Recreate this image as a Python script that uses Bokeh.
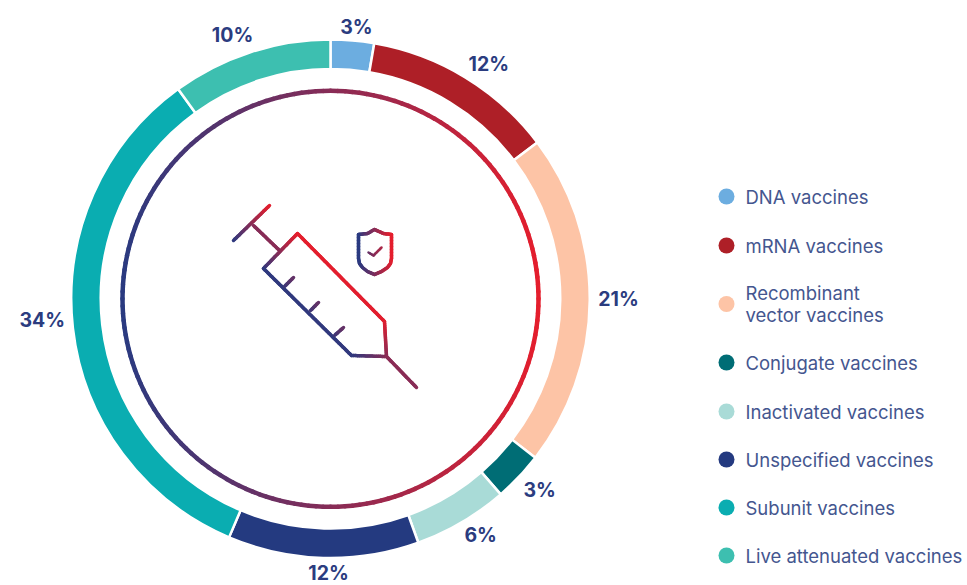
import math
from bokeh.plotting import figure
from bokeh.embed import file_html
from bokeh.resources import INLINE
from bokeh.core.properties import value

# ---- data ----
categories = ["DNA vaccines", "mRNA vaccines", "Recombinant\nvector vaccines", "Conjugate vaccines",
              "Inactivated vaccines", "Unspecified vaccines", "Subunit vaccines", "Live attenuated vaccines"]
shares = [2.7, 12.0, 20.8, 3.1, 5.9, 11.9, 33.6, 10.0]
labels = ["3%", "12%", "21%", "3%", "6%", "12%", "34%", "10%"]
colors = ["#6cade0", "#ae1f27", "#fdc4a6", "#006d75", "#a9dbd7", "#243a80", "#0aadb1", "#3dbfb0"]

# ---- layout (page pixels) ----
W, H = 967, 585
OFF = 0
CX, CY = 330, 298.3
R_OUT, R_IN, R_CIRCLE = 259.25, 229.75, 208
label_radii = [273, 283, 288, 283.5, 280, 274.5, 289, 281]
label_nudge_deg = [0.6, 2.7, -0.4, -0.9, -2.0, -1.2, 2.3, -2.4]
legend_y = [196, 245, 303.5, 362, 411, 459, 507, 555]
LEG_DOT_X, LEG_TEXT_X = 726, 745
NAVY = "#2b3c7f"
LEG_TEXT = "#44568f"
FONT = "Inter"

def px(x): return x - CX
def py(y): return CY - y

p = figure(width=W, height=H, output_backend="svg", toolbar_location=None,
           x_range=(OFF - CX, OFF + W - CX), y_range=(CY - OFF - H, CY - OFF),
           min_border=0, outline_line_color=None)
p.axis.visible = False
p.grid.visible = False
p.background_fill_color = "white"

# ---- ring ----
total = sum(shares)
starts, ends, acc = [], [], 0.0
for s in shares:
    starts.append(acc / total); acc += s; ends.append(acc / total)
to_ang = lambda f: math.pi / 2 - 2 * math.pi * f
p.annular_wedge(x=0, y=0, inner_radius=R_IN, outer_radius=R_OUT,
                start_angle=[to_ang(e) for e in ends], end_angle=[to_ang(s) for s in starts],
                fill_color=colors, line_color="white", line_width=2.5)

# ---- percentage labels ----
mids = [2 * math.pi * (a + b) / 2 + math.radians(n) for a, b, n in zip(starts, ends, label_nudge_deg)]
p.text(x=[r * math.sin(m) for r, m in zip(label_radii, mids)],
       y=[r * math.cos(m) for r, m in zip(label_radii, mids)],
       text=labels, text_font=value(FONT), text_font_style="bold", text_font_size="19.5px",
       text_color=NAVY, text_align="center", text_baseline="middle")

# ---- gradient helpers ----
BLUE, RED = (0x2a, 0x3a, 0x80), (0xe4, 0x1e, 0x2d)
def mix(t):
    t = max(0.0, min(1.0, t))
    return "#%02x%02x%02x" % tuple(round(a + (b - a) * t) for a, b in zip(BLUE, RED))

def grad_line(points, tfunc, width, step=2.0):
    xs, ys, cs = [], [], []
    for (x0, y0), (x1, y1) in zip(points, points[1:]):
        n = max(1, int(math.hypot(x1 - x0, y1 - y0) / step))
        for i in range(n):
            a, b = i / n, (i + 1) / n
            xa, ya = x0 + (x1 - x0) * a, y0 + (y1 - y0) * a
            xb, yb = x0 + (x1 - x0) * b, y0 + (y1 - y0) * b
            xs.append([px(xa), px(xb)]); ys.append([py(ya), py(yb)])
            cs.append(mix(tfunc((xa + xb) / 2, (ya + yb) / 2)))
    p.multi_line(xs, ys, line_color=cs, line_width=width, line_cap="round", line_join="round")

# ---- inner circle ----
circle_pts = [(CX + R_CIRCLE * math.cos(i * math.pi / 180), CY + R_CIRCLE * math.sin(i * math.pi / 180))
              for i in range(0, 361, 2)]
grad_line(circle_pts, lambda x, y: (x - (CX - R_CIRCLE)) / (2 * R_CIRCLE), 4.5, step=8)

# ---- syringe icon ----
syr_t = lambda x, y: (x - y + 7) / 71
W_ICON = 3.5
for pts in [
    [(233, 240), (269, 205)],
    [(253, 225), (279, 250)],
    [(263, 268), (297, 233), (384, 321), (386, 356), (351, 355), (263, 268)],
    [(386, 356), (416, 387)],
    [(284, 286), (293, 277)],
    [(310, 310), (318, 302)],
    [(334, 335), (343, 327)],
]:
    grad_line(pts, syr_t, W_ICON)

# ---- shield icon ----
sh_t = lambda x, y: (x - 358) / 33
grad_line([(358, 234), (367, 233), (374, 229), (383, 233), (391, 234), (391, 258), (390, 263), (387, 267),
           (381, 271), (374, 274), (367, 271), (362, 267), (359, 263), (358, 258), (358, 234)], sh_t, 3.5, step=1.5)
grad_line([(368, 252), (373, 255), (381, 247)], sh_t, 2.5, step=1.5)

# ---- legend ----
p.scatter(x=[px(LEG_DOT_X)] * len(legend_y), y=[py(y) for y in legend_y], size=16,
          marker="circle", fill_color=colors, line_color=None)
p.text(x=[px(LEG_TEXT_X)] * len(legend_y), y=[py(y) for y in legend_y], text=categories,
       text_font=value(FONT), text_font_size="18.5px", text_color=LEG_TEXT,
       text_align="left", text_baseline="middle", text_line_height=0.956)

open("out.html", "w").write(file_html(p, INLINE))
